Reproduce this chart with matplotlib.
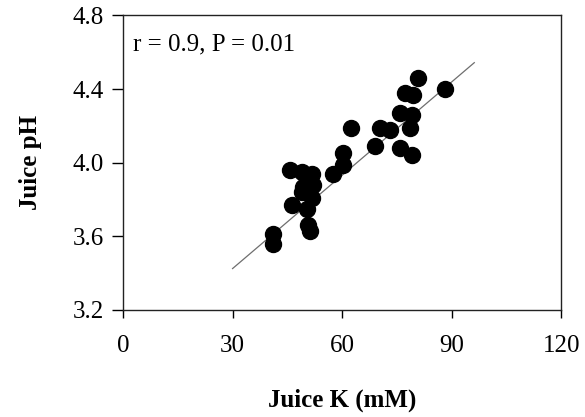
import matplotlib
matplotlib.use("Agg")
import matplotlib.pyplot as plt

# Juice K (mM) vs juice pH
juice_k = [41.2, 41.2, 45.8, 49.0, 51.8, 57.5, 49.3, 52.0, 51.8, 49.0,
           46.3, 50.4, 50.7, 51.2, 62.5, 70.5, 73.0, 69.0, 60.3, 60.3,
           80.9, 88.2, 77.3, 79.5, 75.9, 79.1, 78.6, 75.9, 79.1]
juice_ph = [3.61, 3.56, 3.96, 3.95, 3.94, 3.94, 3.87, 3.88, 3.81, 3.84,
            3.77, 3.75, 3.66, 3.63, 4.19, 4.19, 4.18, 4.09, 4.05, 3.99,
            4.46, 4.40, 4.38, 4.37, 4.27, 4.26, 4.19, 4.08, 4.04]

# regression line as drawn
fit_x = [30, 96.2]
fit_y = [3.425, 4.543]

plt.rcParams['font.family'] = ['Liberation Serif', 'DejaVu Serif']

fig = plt.figure(figsize=(5.85, 4.17), dpi=100)
ax = fig.add_axes([0.2103, 0.2566, 0.749, 0.7066])

ax.plot(fit_x, fit_y, color='#6e6e6e', linewidth=0.9, zorder=2)
ax.plot(juice_k, juice_ph, 'o', color='black', markersize=11.5, zorder=3)

ax.set_xlim(0, 120)
ax.set_ylim(3.2, 4.8)
ax.set_xticks([0, 30, 60, 90, 120])
ax.set_yticks([3.2, 3.6, 4.0, 4.4, 4.8])
ax.set_yticklabels(['3.2', '3.6', '4.0', '4.4', '4.8'])
ax.tick_params(axis='x', direction='out', length=6, width=1, labelsize=18, pad=12)
ax.tick_params(axis='y', direction='out', length=8, width=1, labelsize=18, pad=6)
for s in ax.spines.values():
    s.set_linewidth(1)
    s.set_color('#222222')

ax.set_xlabel('Juice K (mM)', fontsize=18, fontweight='bold', labelpad=23)
ax.set_ylabel('Juice pH', fontsize=18, fontweight='bold', labelpad=22)

ax.text(0.023, 0.881, 'r = 0.9, P = 0.01', transform=ax.transAxes,
        fontsize=18, va='baseline', ha='left')

fig.savefig('out.png', dpi=100)
